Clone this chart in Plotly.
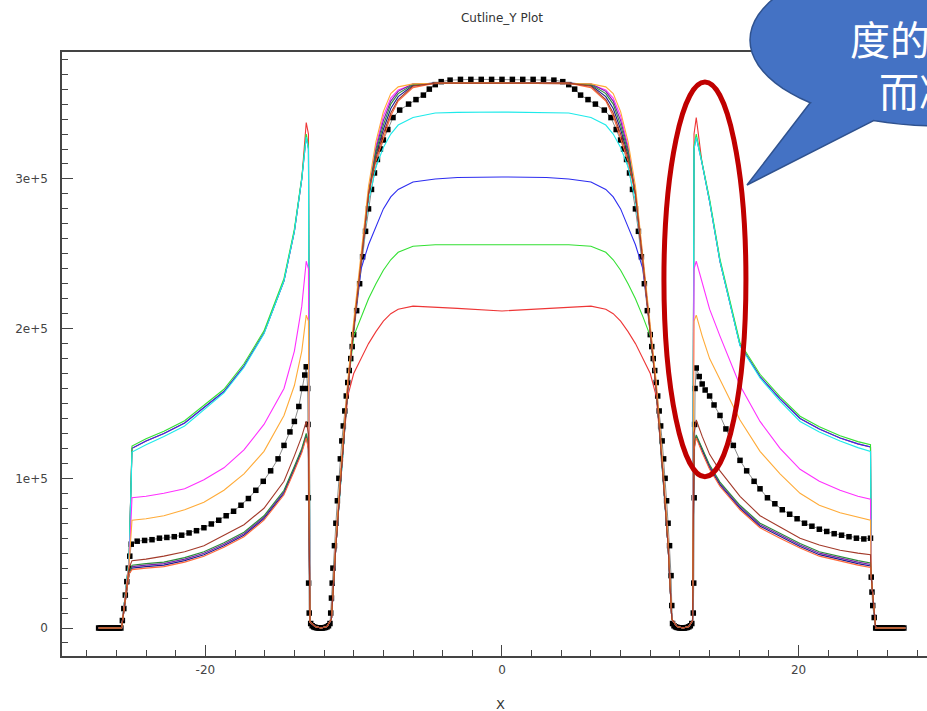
import numpy as np
import plotly.graph_objects as go

# ---------------- data (values in units of 1e5) ----------------
X_LINE = [-27.2, -25.65, -25.15, -24.95, -24.0, -22.8, -21.4, -20.1, -18.75, -17.4, -16.05, -14.7,
          -14.0, -13.5, -13.2, -13.05, -12.95, -12.6, -12.2, -11.8, -11.5, -11.2, -10.8, -10.4,
          -10.0, -9.5, -9.0, -8.5, -8.0, -7.5, -7.0, -6.0, -4.5, -3.0, 0.0, 3.0, 4.5, 6.0, 7.0,
          7.5, 8.0, 8.5, 9.0, 9.5, 10.0, 10.4, 10.8, 11.2, 11.45, 11.8, 12.2, 12.6, 12.85, 12.95,
          13.1, 13.5, 14.0, 14.7, 16.05, 17.4, 18.75, 20.1, 21.4, 22.8, 24.0, 24.85, 24.9, 25.2, 27.2]

red_e5 = [0, 0, 0.45,
          1.2, 1.25, 1.30, 1.37, 1.47, 1.58, 1.75, 1.97, 2.32, 2.65, 3.0, 3.376, 3.3,
          0.04, 0.01, 0.0, 0.01, 0.06,
          0.55, 1.1, 1.55, 1.7, 1.8, 1.9, 1.98, 2.05, 2.1, 2.13, 2.15, 2.145, 2.135, 2.118,
          2.135, 2.145, 2.15, 2.13, 2.1, 2.05, 1.98, 1.9, 1.8, 1.7, 1.55, 1.1, 0.55,
          0.06, 0.01, 0.0, 0.01, 0.05,
          3.3, 3.41, 3.1, 2.85, 2.45, 1.89, 1.68, 1.53, 1.40, 1.33, 1.27, 1.23, 1.21,
          0.34, 0, 0]

green_e5 = [0, 0, 0.45,
            1.215, 1.265, 1.315, 1.385, 1.485, 1.595, 1.765, 1.985, 2.335, 2.665, 3.01, 3.3, 3.22,
            0.04, 0.01, 0.0, 0.01, 0.06,
            0.55, 1.1, 1.6, 1.95, 2.08, 2.2, 2.3, 2.39, 2.46, 2.51, 2.55, 2.56, 2.56, 2.558,
            2.56, 2.56, 2.55, 2.51, 2.46, 2.39, 2.3, 2.2, 2.08, 1.95, 1.6, 1.1, 0.55,
            0.06, 0.01, 0.0, 0.01, 0.05,
            3.22, 3.3, 3.115, 2.865, 2.465, 1.905, 1.695, 1.545, 1.415, 1.345, 1.285, 1.245, 1.225,
            0.34, 0, 0]

blue_e5 = [0, 0, 0.45,
           1.2, 1.25, 1.30, 1.37, 1.47, 1.58, 1.75, 1.97, 2.32, 2.65, 3.0, 3.28, 3.2,
           0.04, 0.01, 0.0, 0.01, 0.06,
           0.55, 1.1, 1.6, 2.0, 2.4, 2.56, 2.68, 2.8, 2.88, 2.93, 2.98, 3.0, 3.01, 3.013,
           3.01, 3.0, 2.98, 2.93, 2.88, 2.8, 2.68, 2.56, 2.4, 2.0, 1.6, 1.1, 0.55,
           0.06, 0.01, 0.0, 0.01, 0.05,
           3.2, 3.28, 3.1, 2.85, 2.45, 1.89, 1.68, 1.53, 1.40, 1.33, 1.27, 1.23, 1.21,
           0.34, 0, 0]

cyan_e5 = [0, 0, 0.45,
           1.175, 1.225, 1.28, 1.35, 1.455, 1.57, 1.74, 1.965, 2.32, 2.65, 3.0, 3.28, 3.2,
           0.04, 0.01, 0.0, 0.01, 0.06,
           0.55, 1.1, 1.6, 2.0, 2.45, 2.85, 3.08, 3.21, 3.3, 3.36, 3.41, 3.44, 3.445, 3.447,
           3.445, 3.44, 3.41, 3.36, 3.3, 3.21, 3.08, 2.85, 2.45, 2.0, 1.6, 1.1, 0.55,
           0.06, 0.01, 0.0, 0.01, 0.05,
           3.2, 3.28, 3.1, 2.85, 2.45, 1.885, 1.67, 1.515, 1.38, 1.31, 1.25, 1.205, 1.18,
           0.34, 0, 0]

magenta_e5 = [0, 0, 0.42,
              0.87, 0.88, 0.9, 0.93, 0.99, 1.07, 1.19, 1.36, 1.6, 1.85, 2.15, 2.45, 2.4,
              0.04, 0.01, 0.0, 0.01, 0.06,
              0.58, 1.12, 1.62, 2.02, 2.47, 2.92, 3.22, 3.42, 3.54, 3.595, 3.63, 3.64, 3.64, 3.64,
              3.64, 3.64, 3.63, 3.595, 3.54, 3.42, 3.22, 2.92, 2.47, 2.02, 1.62, 1.12, 0.58,
              0.06, 0.01, 0.0, 0.01, 0.05,
              2.4, 2.45, 2.3, 2.13, 1.95, 1.62, 1.38, 1.2, 1.06, 0.98, 0.92, 0.88, 0.86,
              0.34, 0, 0]

orange_e5 = [0, 0, 0.42,
             0.72, 0.73, 0.75, 0.79, 0.84, 0.92, 1.03, 1.18, 1.42, 1.62, 1.85, 2.09, 2.05,
             0.04, 0.01, 0.0, 0.01, 0.06,
             0.6, 1.15, 1.65, 2.05, 2.5, 2.95, 3.25, 3.45, 3.57, 3.615, 3.635, 3.64, 3.64, 3.64,
             3.64, 3.64, 3.635, 3.615, 3.57, 3.45, 3.25, 2.95, 2.5, 2.05, 1.65, 1.15, 0.6,
             0.06, 0.01, 0.0, 0.01, 0.05,
             2.05, 2.09, 1.95, 1.8, 1.66, 1.39, 1.18, 1.03, 0.9, 0.82, 0.77, 0.74, 0.72,
             0.34, 0, 0]

brown_e5 = [0, 0, 0.4,
            0.45, 0.46, 0.48, 0.51, 0.55, 0.62, 0.69, 0.8, 0.98, 1.15, 1.28, 1.38, 1.3,
            0.04, 0.01, 0.0, 0.01, 0.06,
            0.55, 1.1, 1.6, 2.0, 2.45, 2.9, 3.14, 3.3, 3.44, 3.53, 3.62, 3.64, 3.64, 3.64,
            3.64, 3.64, 3.62, 3.53, 3.44, 3.3, 3.14, 2.9, 2.45, 2.0, 1.6, 1.1, 0.55,
            0.06, 0.01, 0.0, 0.01, 0.05,
            1.3, 1.39, 1.28, 1.16, 1.05, 0.88, 0.75, 0.675, 0.6, 0.555, 0.52, 0.5, 0.49,
            0.34, 0, 0]

navy_e5 = [0, 0, 0.36,
           0.40, 0.41, 0.42, 0.45, 0.49, 0.55, 0.62, 0.73, 0.9, 1.06, 1.18, 1.28, 1.2,
           0.04, 0.01, 0.0, 0.01, 0.06,
           0.55, 1.1, 1.6, 2.0, 2.45, 2.9, 3.16, 3.33, 3.47, 3.55, 3.625, 3.64, 3.64, 3.64,
           3.64, 3.64, 3.625, 3.55, 3.47, 3.33, 3.16, 2.9, 2.45, 2.0, 1.6, 1.1, 0.55,
           0.06, 0.01, 0.0, 0.01, 0.05,
           1.2, 1.276, 1.18, 1.07, 0.955, 0.8, 0.68, 0.61, 0.545, 0.49, 0.455, 0.43, 0.414,
           0.34, 0, 0]

darkgreen_e5 = [0, 0, 0.36,
                0.42, 0.43, 0.44, 0.47, 0.51, 0.57, 0.64, 0.75, 0.92, 1.08, 1.2, 1.3, 1.22,
                0.04, 0.01, 0.0, 0.01, 0.06,
                0.55, 1.1, 1.6, 2.0, 2.45, 2.9, 3.18, 3.36, 3.5, 3.57, 3.63, 3.64, 3.64, 3.64,
                3.64, 3.64, 3.63, 3.57, 3.5, 3.36, 3.18, 2.9, 2.45, 2.0, 1.6, 1.1, 0.55,
                0.06, 0.01, 0.0, 0.01, 0.05,
                1.22, 1.29, 1.2, 1.09, 0.975, 0.82, 0.7, 0.63, 0.565, 0.51, 0.475, 0.45, 0.434,
                0.34, 0, 0]

purple_e5 = [0, 0, 0.36,
             0.41, 0.42, 0.43, 0.46, 0.5, 0.56, 0.63, 0.74, 0.91, 1.07, 1.19, 1.29, 1.21,
             0.04, 0.01, 0.0, 0.01, 0.06,
             0.55, 1.1, 1.6, 2.0, 2.45, 2.9, 3.2, 3.39, 3.52, 3.585, 3.635, 3.64, 3.64, 3.64,
             3.64, 3.64, 3.635, 3.585, 3.52, 3.39, 3.2, 2.9, 2.45, 2.0, 1.6, 1.1, 0.55,
             0.06, 0.01, 0.0, 0.01, 0.05,
             1.21, 1.283, 1.19, 1.08, 0.965, 0.81, 0.69, 0.62, 0.555, 0.5, 0.465, 0.44, 0.424,
             0.34, 0, 0]

orangered_e5 = [0, 0, 0.36,
                0.39, 0.40, 0.41, 0.44, 0.48, 0.54, 0.61, 0.72, 0.89, 1.05, 1.17, 1.27, 1.19,
                0.04, 0.01, 0.0, 0.01, 0.06,
                0.55, 1.1, 1.6, 2.0, 2.45, 2.9, 3.12, 3.27, 3.42, 3.52, 3.61, 3.64, 3.64, 3.64,
                3.64, 3.64, 3.61, 3.52, 3.42, 3.27, 3.12, 2.9, 2.45, 2.0, 1.6, 1.1, 0.55,
                0.06, 0.01, 0.0, 0.01, 0.05,
                1.19, 1.27, 1.17, 1.06, 0.945, 0.79, 0.67, 0.6, 0.535, 0.48, 0.445, 0.42, 0.404,
                0.34, 0, 0]

BLACK_X = [-27.2, -27.1, -27.0, -26.9, -26.8, -26.7, -26.6, -26.5, -26.4, -26.3, -26.2, -26.1,
           -26.0, -25.9, -25.8, -25.7,
           -25.6, -25.5, -25.4, -25.3, -25.2, -25.1, -25.0,
           -24.6, -24.1, -23.6, -23.1, -22.6, -22.1, -21.6, -21.1, -20.6, -20.1, -19.6, -19.1,
           -18.6, -18.1, -17.6, -17.1, -16.6, -16.1, -15.6, -15.1, -14.7, -14.3, -14.0, -13.7,
           -13.45, -13.3, -13.2,
           -13.1, -13.08, -13.06, -13.04, -13.0,
           -12.9, -12.8, -12.7, -12.6, -12.5, -12.4, -12.3, -12.2, -12.1, -12.0, -11.9, -11.8,
           -11.7, -11.6,
           -11.55, -11.5, -11.45, -11.4, -11.3, -11.2, -11.1, -11.0, -10.9, -10.8, -10.7, -10.6,
           -10.5, -10.4, -10.3, -10.2, -10.1, -10.0, -9.8, -9.6, -9.4, -9.2, -9.0, -8.8, -8.6,
           -8.4, -8.2, -8.0, -7.7, -7.35, -6.9, -6.3, -5.8, -5.3, -4.9, -4.5, -4.1, -3.5,
           -2.8, -2.1, -1.4, -0.7, 0.0, 0.7, 1.4, 2.1, 2.8,
           3.5, 4.1, 4.5, 4.9, 5.3, 5.8, 6.3, 6.9, 7.35, 7.7, 8.0, 8.2, 8.4, 8.6, 8.8, 9.0, 9.2,
           9.4, 9.6, 9.8, 10.0, 10.1, 10.2, 10.3, 10.4, 10.5, 10.6, 10.7, 10.8, 10.9, 11.0, 11.1,
           11.2, 11.3, 11.4, 11.45,
           11.5, 11.6, 11.7, 11.8, 11.9, 12.0, 12.1, 12.2, 12.3, 12.4, 12.5, 12.6, 12.7, 12.8,
           12.9, 12.93, 12.96, 12.99, 13.02, 13.1,
           13.3, 13.5, 13.7, 14.0, 14.3, 14.7, 15.1, 15.6, 16.05, 16.5, 17.0, 17.4, 17.9, 18.4,
           18.9, 19.4, 19.9, 20.4, 20.9, 21.4, 21.9, 22.4, 22.9, 23.4, 23.9, 24.4, 24.85,
           24.9, 24.95, 25.0, 25.1, 25.2,
           25.3, 25.4, 25.5, 25.6, 25.7, 25.8, 25.9, 26.0, 26.1, 26.2, 26.3, 26.4, 26.5, 26.6,
           26.7, 26.8, 26.9, 27.0, 27.1]

black_e5 = [0, 0, 0, 0, 0, 0, 0, 0, 0, 0, 0, 0,
            0, 0, 0, 0,
            0.05, 0.13, 0.22, 0.31, 0.4, 0.48, 0.56,
            0.58, 0.585, 0.59, 0.6, 0.605, 0.61, 0.62, 0.635, 0.65, 0.67, 0.695, 0.72,
            0.75, 0.78, 0.82, 0.865, 0.92, 0.98, 1.05, 1.13, 1.22, 1.31, 1.38, 1.48,
            1.6, 1.69, 1.745,
            1.6, 1.36, 0.87, 0.3, 0.1,
            0.03, 0.015, 0.008, 0.004, 0.002, 0.0, 0.0, 0.0, 0.0, 0.002, 0.004, 0.008,
            0.015, 0.03,
            0.1, 0.2, 0.3, 0.4, 0.55, 0.7, 0.85, 1.0, 1.13, 1.25, 1.35, 1.45,
            1.55, 1.64, 1.72, 1.8, 1.88, 1.96, 2.12, 2.3, 2.48, 2.65, 2.8, 2.93, 3.04,
            3.13, 3.2, 3.26, 3.33, 3.41, 3.46, 3.5, 3.53, 3.56, 3.6, 3.63, 3.65, 3.66,
            3.665, 3.665, 3.665, 3.665, 3.665, 3.665, 3.665, 3.665, 3.665,
            3.66, 3.65, 3.63, 3.6, 3.56, 3.53, 3.5, 3.46, 3.41, 3.33, 3.26, 3.2, 3.13, 3.04, 2.93, 2.8, 2.65,
            2.48, 2.3, 2.12, 1.96, 1.88, 1.8, 1.72, 1.64, 1.55, 1.45, 1.35, 1.25, 1.13, 1.0, 0.85,
            0.7, 0.55, 0.35, 0.15,
            0.03, 0.015, 0.008, 0.004, 0.002, 0.0, 0.0, 0.0, 0.0, 0.002, 0.004, 0.008, 0.015, 0.03,
            0.1, 0.3, 0.87, 1.36, 1.6, 1.737,
            1.68, 1.63, 1.59, 1.55, 1.49, 1.42, 1.33, 1.22, 1.12, 1.05, 0.98, 0.93, 0.87, 0.83,
            0.79, 0.76, 0.73, 0.7, 0.68, 0.66, 0.645, 0.63, 0.62, 0.61, 0.6, 0.595, 0.6,
            0.34, 0.24, 0.15, 0.07, 0.0,
            0, 0, 0, 0, 0, 0, 0, 0, 0, 0, 0, 0, 0, 0,
            0, 0, 0, 0, 0]

LINE_SERIES = [
    ("red", red_e5, "#ee3636"),
    ("blue", blue_e5, "#2d2df0"),
    ("green", green_e5, "#33e033"),
    ("cyan", cyan_e5, "#1eeaea"),
    ("magenta", magenta_e5, "#ff30ff"),
    ("purple", purple_e5, "#7a1fa8"),
    ("navy", navy_e5, "#1c1c90"),
    ("darkgreen", darkgreen_e5, "#2a8a3a"),
    ("orangered", orangered_e5, "#ff6a3a"),
    ("orange", orange_e5, "#ffab38"),
    ("brown", brown_e5, "#a33a2a"),
]

Y_TICKS = [0, 1e5, 2e5, 3e5]
Y_TICKTEXT = ["0", "1e+5", "2e+5", "3e+5"]
X_TICKS = [-20, 0, 20]
X_TICKTEXT = ["-20", "0", "20"]

# ---------------- figure ----------------
W, H = 927, 711
L, R, T, B = 62, 0, 52, 55
PW, PH = W - L - R, H - T - B

def px2paper(px, py):
    return (px - L) / PW, (H - B - py) / PH

fig = go.Figure()

fig.add_trace(go.Scatter(
    x=BLACK_X, y=[v * 1e5 for v in black_e5], mode="lines+markers",
    line=dict(color="#8a8a8a", width=1),
    marker=dict(symbol="square", size=5.5, color="black"),
    name="black", showlegend=False))

for name, vals, col in LINE_SERIES:
    fig.add_trace(go.Scatter(
        x=X_LINE, y=[v * 1e5 for v in vals], mode="lines",
        line=dict(color=col, width=1.1), name=name, showlegend=False))

# speech bubble (decoration)
cx, cy, rx, ry = 940, 40, 190, 86
t_start = np.arctan2((121 - cy) / ry, (873 - cx) / rx)
t_end = np.arctan2((103 - cy) / ry, (810 - cx) / rx) - 2 * np.pi
pts = [(810, 103), (747, 185), (873, 121)]
for t in np.linspace(t_start, t_end, 80):
    pts.append((cx + rx * np.cos(t), cy + ry * np.sin(t)))
path = "M " + " L ".join("%.5f,%.5f" % px2paper(px, py) for px, py in pts) + " Z"

shapes = [
    dict(type="circle", xref="x", yref="y", x0=10.92, x1=16.45, y0=1.01e5, y1=3.647e5,
         line=dict(color="#c00000", width=5), layer="above"),
    dict(type="path", xref="paper", yref="paper", path=path,
         fillcolor="#4472c4", line=dict(color="#2f528f", width=1.5), layer="above"),
]

ax1x, ax1y = px2paper(848, 38)
ax2x, ax2y = px2paper(877, 90)
annotations = [
    dict(text="度的变", xref="paper", yref="paper", x=ax1x, y=ax1y, xanchor="left",
         yanchor="middle", showarrow=False,
         font=dict(family="Noto Sans CJK SC", size=40, color="white")),
    dict(text="而减", xref="paper", yref="paper", x=ax2x, y=ax2y, xanchor="left",
         yanchor="middle", showarrow=False,
         font=dict(family="Noto Sans CJK SC", size=40, color="white")),
    dict(text="X", xref="paper", yref="paper", x=px2paper(500, 704)[0], y=px2paper(500, 704)[1],
         xanchor="center", yanchor="middle", showarrow=False,
         font=dict(family="DejaVu Sans", size=13, color="#333333")),
]

fig.update_layout(
    width=W, height=H,
    margin=dict(l=L, r=R, t=T, b=B, pad=0),
    paper_bgcolor="white", plot_bgcolor="white",
    font=dict(family="DejaVu Sans", size=12, color="#444444"),
    title=dict(text="Cutline_Y Plot", x=px2paper(502, 0)[0], xref="paper",
               y=1 - 18 / H, yref="container", xanchor="center", yanchor="middle",
               font=dict(family="DejaVu Sans", size=12, color="#333333")),
    showlegend=False,
    shapes=shapes,
    annotations=annotations,
)

fig.update_xaxes(
    range=[-29.67, 28.66], showgrid=False, zeroline=False,
    showline=True, linecolor="#444444", linewidth=1.5, mirror=True,
    ticks="inside", ticklen=11, tickwidth=1.2, tickcolor="#444444",
    tickvals=X_TICKS, ticktext=X_TICKTEXT, ticklabelstandoff=2,
    minor=dict(dtick=2, tick0=0, ticks="inside", ticklen=6, tickcolor="#444444", tickwidth=1),
)
fig.update_yaxes(
    range=[-0.187e5, 3.848e5], showgrid=False, zeroline=False,
    showline=True, linecolor="#444444", linewidth=1.5,
    ticks="inside", ticklen=11, tickwidth=1.2, tickcolor="#444444",
    tickvals=Y_TICKS, ticktext=Y_TICKTEXT, ticklabelstandoff=10,
    minor=dict(dtick=1e4, tick0=0, ticks="inside", ticklen=6, tickcolor="#444444", tickwidth=1),
)

fig.write_html("out.html", config={"displayModeBar": False},
               post_script="document.body.style.margin='0px';")
